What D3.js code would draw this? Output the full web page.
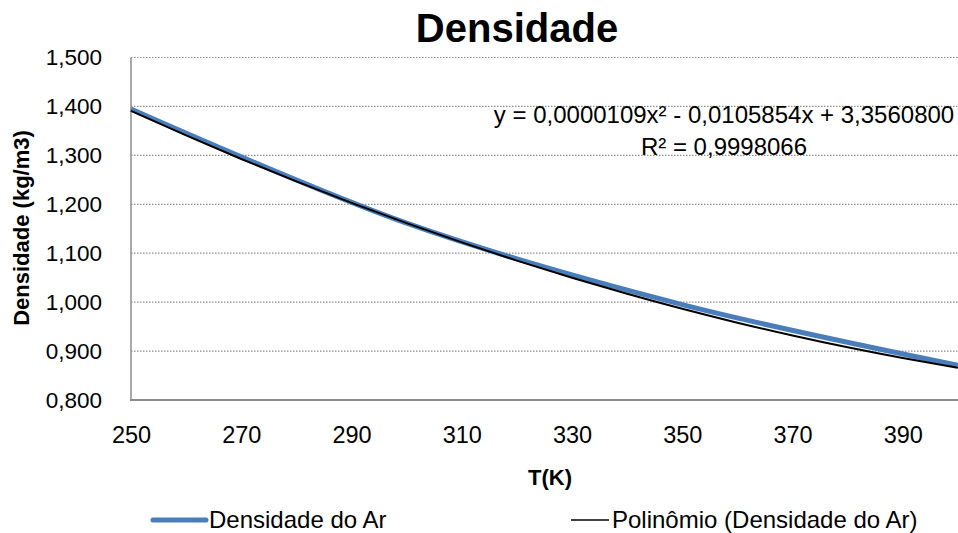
<!DOCTYPE html>
<html><head><meta charset="utf-8">
<script src="https://cdn.jsdelivr.net/npm/d3@7"></script>
<style>
body{margin:0;background:#fff;overflow:hidden}
svg{display:block}
text{font-family:'Liberation Sans',Arial,sans-serif;fill:#000}
</style>
</head><body>
<svg id="c" width="958" height="533"></svg>
<script>
// Data: air density (kg/m3) vs temperature T (K)
const temps = [250, 300, 350, 400];
const density = [1.3947, 1.1614, 0.9950, 0.8711];
// Polynomial trendline values
const trendT = [250, 260, 270, 280, 290, 300, 310, 320, 330, 340, 350, 360, 370, 380, 390, 400];
const trendRho = [1.3910, 1.3407, 1.2926, 1.2467, 1.2030, 1.1615, 1.1221, 1.0849, 1.0499, 1.0171, 0.9864, 0.9580, 0.9317, 0.9076, 0.8857, 0.8659];
const yTicks = [0.8, 0.9, 1.0, 1.1, 1.2, 1.3, 1.4, 1.5];
const xTicks = [250, 270, 290, 310, 330, 350, 370, 390];
const titleText = "Densidade";
const xTitle = "T(K)";
const yTitle = "Densidade (kg/m3)";
const eqText = "y = 0,0000109x² - 0,0105854x + 3,3560800";
const r2Text = "R² = 0,9998066";
const seriesNames = ["Densidade do Ar", "Polinômio (Densidade do Ar)"];

const svg = d3.select("#c");
const L = 131, T = 57.5, B = 400;
const x = d3.scaleLinear().domain([250, 410]).range([L, 1013]);
const y = d3.scaleLinear().domain([0.8, 1.5]).range([B, T]);
const loc = d3.formatLocale({decimal: ",", thousands: ".", grouping: [3], currency: ["", ""]});
const fmt = loc.format(".3f");

// gridlines
svg.append("g").selectAll("line").data(yTicks.filter(v => v > 0.8)).join("line")
  .attr("x1", L).attr("x2", 958)
  .attr("y1", d => y(d)).attr("y2", d => y(d))
  .attr("stroke", "#8e8e8e").attr("stroke-width", 1.2).attr("stroke-dasharray", "1.5,1.5");

// y axis labels
const ya = svg.append("g").attr("transform", `translate(${L},0)`)
  .call(d3.axisLeft(y).tickValues(yTicks).tickFormat(fmt).tickSize(0).tickPadding(29));
ya.select(".domain").remove();
ya.selectAll("text").style("font-size", "22.5px").style("font-family", "'Liberation Sans',Arial,sans-serif");

// x axis labels
const xa = svg.append("g").attr("transform", `translate(0,${B})`)
  .call(d3.axisBottom(x).tickValues(xTicks).tickFormat(d3.format("d")).tickSize(0).tickPadding(26));
xa.select(".domain").remove();
xa.selectAll("text").style("font-size", "23.5px").style("font-family", "'Liberation Sans',Arial,sans-serif");

// axis lines
svg.append("line").attr("x1", L).attr("x2", L).attr("y1", T).attr("y2", B)
  .attr("stroke", "#8c8c8c").attr("stroke-width", 1.5);
svg.append("line").attr("x1", L - 1).attr("x2", 958).attr("y1", B).attr("y2", B)
  .attr("stroke", "#8c8c8c").attr("stroke-width", 2);

// data line
const pts = temps.map((t, i) => [t, density[i]]);
svg.append("path").datum(pts)
  .attr("d", d3.line().x(d => x(d[0])).y(d => y(d[1])).curve(d3.curveCatmullRom))
  .attr("fill", "none").attr("stroke", "#4A7EBB").attr("stroke-width", 5);

// trendline
const tpts = trendT.map((t, i) => [t, trendRho[i]]);
svg.append("path").datum(tpts)
  .attr("d", d3.line().x(d => x(d[0])).y(d => y(d[1])).curve(d3.curveMonotoneX))
  .attr("fill", "none").attr("stroke", "#000").attr("stroke-width", 2);

// equation
svg.append("text").attr("x", 724).attr("y", 123).attr("text-anchor", "middle")
  .style("font-size", "24px").text(eqText);
svg.append("text").attr("x", 724).attr("y", 155).attr("text-anchor", "middle")
  .style("font-size", "24px").text(r2Text);

// title
svg.append("text").attr("x", 517).attr("y", 42).attr("text-anchor", "middle")
  .style("font-size", "40px").style("font-weight", "bold").text(titleText);

// axis titles
svg.append("text").attr("x", 550).attr("y", 485).attr("text-anchor", "middle")
  .style("font-size", "22px").style("font-weight", "bold").text(xTitle);
svg.append("text").attr("transform", "translate(29,228) rotate(-90)").attr("text-anchor", "middle")
  .style("font-size", "22px").style("font-weight", "bold").text(yTitle);

// legend
svg.append("line").attr("x1", 153).attr("x2", 206).attr("y1", 520).attr("y2", 520)
  .attr("stroke", "#4A7EBB").attr("stroke-width", 5).attr("stroke-linecap", "round");
svg.append("text").attr("x", 209).attr("y", 528).style("font-size", "24px").text(seriesNames[0]);
svg.append("line").attr("x1", 571).attr("x2", 609).attr("y1", 520).attr("y2", 520)
  .attr("stroke", "#000").attr("stroke-width", 1.5);
svg.append("text").attr("x", 612).attr("y", 528).style("font-size", "24px").text(seriesNames[1]);
</script>
</body></html>
